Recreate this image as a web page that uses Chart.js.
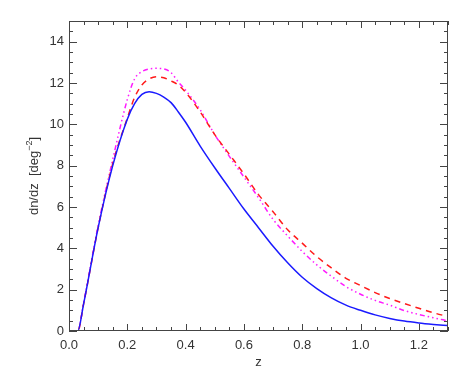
<!DOCTYPE html>
<html>
<head>
<meta charset="utf-8">
<script src="https://cdn.jsdelivr.net/npm/chart.js@4/dist/chart.umd.min.js"></script>
<style>
  html, body { margin: 0; padding: 0; background: #fff; }
  #wrap { width: 469px; height: 375px; }
</style>
</head>
<body>
<div id="wrap"><canvas id="c" width="469" height="375"></canvas></div>
<script>
// redshift grid and the three dn/dz curves
const zBlue = [0, 0.03, 0.05, 0.1, 0.15, 0.2, 0.225, 0.25, 0.275, 0.3, 0.325, 0.35, 0.375, 0.4, 0.45, 0.5, 0.55, 0.6, 0.65, 0.7, 0.75, 0.8, 0.85, 0.9, 0.95, 1.0, 1.05, 1.1, 1.15, 1.2, 1.25, 1.3];
const nBlue = [0, 0, 1.3, 5.0, 8.0, 10.25, 11.0, 11.45, 11.58, 11.5, 11.32, 11.05, 10.6, 10.1, 8.95, 7.9, 6.9, 5.9, 5.0, 4.1, 3.3, 2.6, 2.05, 1.6, 1.25, 1.0, 0.78, 0.61, 0.48, 0.39, 0.32, 0.26];

const zRed = [0, 0.03, 0.05, 0.1, 0.15, 0.2, 0.225, 0.25, 0.275, 0.3, 0.325, 0.35, 0.375, 0.4, 0.45, 0.5, 0.55, 0.6, 0.65, 0.7, 0.75, 0.8, 0.85, 0.9, 0.95, 1.0, 1.05, 1.1, 1.15, 1.2, 1.25, 1.3];
const nRed = [0, 0, 1.3, 5.0, 8.1, 10.3, 11.3, 11.9, 12.2, 12.3, 12.25, 12.1, 11.9, 11.55, 10.6, 9.5, 8.55, 7.6, 6.6, 5.77, 4.9, 4.25, 3.6, 3.05, 2.55, 2.2, 1.86, 1.57, 1.33, 1.1, 0.88, 0.7];

const zMag = [0, 0.03, 0.05, 0.1, 0.15, 0.2, 0.225, 0.25, 0.275, 0.3, 0.325, 0.35, 0.375, 0.4, 0.45, 0.5, 0.55, 0.6, 0.65, 0.7, 0.75, 0.8, 0.85, 0.9, 0.95, 1.0, 1.05, 1.1, 1.15, 1.2, 1.25, 1.3];
const nMag = [0, 0, 1.35, 5.1, 8.3, 11.2, 12.2, 12.55, 12.68, 12.71, 12.68, 12.5, 12.05, 11.65, 10.7, 9.5, 8.45, 7.45, 6.45, 5.4, 4.6, 3.85, 3.2, 2.65, 2.15, 1.78, 1.48, 1.25, 0.99, 0.8, 0.64, 0.49];

// axis ticks
const xMajor = [0, 0.2, 0.4, 0.6, 0.8, 1.0, 1.2];
const xMinorStep = 0.05;
const yMajor = [0, 2, 4, 6, 8, 10, 12, 14];
const yMinorStep = 0.5;

const toXY = (xs, ys) => xs.map((x, i) => ({ x: x, y: ys[i] }));

const FONT = '13px "Liberation Sans", Arial, sans-serif';
const INK = '#333';

const idlAxes = {
  id: 'idlAxes',
  afterDraw(chart) {
    const ctx = chart.ctx;
    const a = chart.chartArea;
    const xs = chart.scales.x, ys = chart.scales.y;
    ctx.save();
    ctx.strokeStyle = '#444';
    ctx.lineWidth = 1;
    ctx.strokeRect(a.left + 0.5, a.top + 0.5, a.right - a.left - 1, a.bottom - a.top - 1);

    ctx.beginPath();
    // x ticks, bottom and top, pointing inward
    for (let v = 0; v <= xs.max + 1e-9; v += xMinorStep) {
      const px = Math.round(xs.getPixelForValue(v)) + 0.5;
      const major = xMajor.some(m => Math.abs(m - v) < 1e-6);
      const len = major ? 7 : 4;
      ctx.moveTo(px, a.bottom); ctx.lineTo(px, a.bottom - len);
      ctx.moveTo(px, a.top); ctx.lineTo(px, a.top + len);
    }
    // y ticks, left and right
    for (let v = 0; v <= ys.max + 1e-9; v += yMinorStep) {
      const py = Math.round(ys.getPixelForValue(v)) + 0.5;
      const major = yMajor.some(m => Math.abs(m - v) < 1e-6);
      const len = major ? 8 : 4;
      ctx.moveTo(a.left, py); ctx.lineTo(a.left + len, py);
      ctx.moveTo(a.right, py); ctx.lineTo(a.right - len, py);
    }
    ctx.stroke();

    ctx.fillStyle = INK;
    ctx.font = FONT;
    ctx.textAlign = 'center';
    ctx.textBaseline = 'alphabetic';
    xMajor.forEach(v => ctx.fillText(v.toFixed(1), xs.getPixelForValue(v), a.bottom + 18));
    ctx.fillText('z', (a.left + a.right) / 2, a.bottom + 35);

    ctx.textAlign = 'right';
    ctx.textBaseline = 'middle';
    yMajor.forEach(v => ctx.fillText(String(v), a.left - 5, ys.getPixelForValue(v)));

    // y title, rotated, with superscript
    ctx.translate(38, (a.top + a.bottom) / 2);
    ctx.rotate(-Math.PI / 2);
    ctx.textBaseline = 'alphabetic';
    ctx.textAlign = 'left';
    const main = 'dn/dz  [deg';
    const sup = '\u22122';
    const close = ']';
    ctx.font = FONT;
    const w1 = ctx.measureText(main).width;
    const w3 = ctx.measureText(close).width;
    ctx.font = '9px "Liberation Sans", Arial, sans-serif';
    const w2 = ctx.measureText(sup).width;
    let x0 = -(w1 + w2 + w3) / 2;
    ctx.font = FONT;
    ctx.fillText(main, x0, 0);
    ctx.font = '9px "Liberation Sans", Arial, sans-serif';
    ctx.fillText(sup, x0 + w1, -6);
    ctx.font = FONT;
    ctx.fillText(close, x0 + w1 + w2, 0);
    ctx.restore();
  }
};

new Chart(document.getElementById('c'), {
  type: 'line',
  data: {
    datasets: [
      { label: 'solid', data: toXY(zBlue, nBlue), borderColor: '#1a1aff', borderWidth: 1.5, pointRadius: 0, cubicInterpolationMode: 'monotone', fill: false },
      { label: 'dashed', data: toXY(zRed, nRed), borderColor: '#ff1a1a', borderWidth: 1.5, borderDash: [6, 5], pointRadius: 0, cubicInterpolationMode: 'monotone', fill: false },
      { label: 'dash-dot', data: toXY(zMag, nMag), borderColor: '#ff1aff', borderWidth: 1.5, borderDash: [5, 3, 1.5, 3, 1.5, 3, 1.5, 3], pointRadius: 0, cubicInterpolationMode: 'monotone', fill: false }
    ]
  },
  options: {
    responsive: false,
    animation: false,
    layout: { padding: { left: 69, top: 21, right: 21, bottom: 44 } },
    scales: {
      x: { type: 'linear', min: 0, max: 1.3, display: false },
      y: { type: 'linear', min: 0, max: 15, display: false }
    },
    plugins: {
      legend: { display: false },
      tooltip: { enabled: false }
    }
  },
  plugins: [idlAxes]
});
</script>
</body>
</html>
